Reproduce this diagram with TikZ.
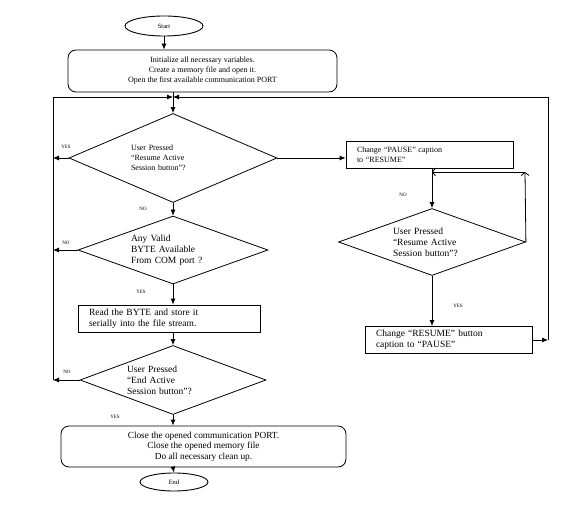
\documentclass[tikz,border=0pt]{standalone}
\usepackage{fontspec}
\setmainfont{Liberation Serif}
\usetikzlibrary{shapes.geometric, arrows.meta}
\newcommand{\smalltxt}{\fontsize{8}{10}\selectfont}
\newcommand{\midtxt}{\fontsize{9.5}{11}\selectfont}
\tikzset{
  terminal/.style={
    ellipse, draw, line width=0.9pt, minimum width=#1, minimum height=20pt,
    inner sep=0pt, font=\fontsize{6.5}{7}\selectfont
  },
  process/.style={
    rectangle, draw, line width=0.8pt, text width=#1, minimum height=27pt,
    inner xsep=11pt, inner ysep=1pt, align=left, font=\midtxt
  },
  roundbox/.style={
    rectangle, rounded corners=8pt, draw, line width=0.8pt, minimum width=#1,
    minimum height=42pt, align=center, font=\midtxt
  },
  decision/.style={
    diamond, draw, line width=0.8pt, aspect=2.6, inner sep=0pt,
    text width=#1, align=left, font=\midtxt
  },
  flow/.style={-{Latex[length=6pt,width=5pt]}, line width=0.8pt},
  loopback/.style={-{Straight Barb[length=3pt,width=8pt]}, line width=0.8pt},
  answer/.style={font=\fontsize{5}{5}\selectfont, inner sep=0pt}
}

\begin{document}
\begin{tikzpicture}[x=1pt, y=-1pt]
  \useasboundingbox (0,0) rectangle (573,505);

  % Main column
  \node[terminal=78pt] (start) at (164,26) {Start};
  \node[roundbox=269pt, font=\smalltxt] (init) at (202.5,71)
    {Initialize all necessary variables.\\Create a memory file and open it.\\Open the first available communication PORT};
  \node[decision=84pt, minimum width=208pt, minimum height=89pt, font=\smalltxt] (d1) at (173,158)
    {User Pressed\\“Resume Active\\Session button”?};
  \node[decision=84pt, minimum width=190pt, minimum height=68pt] (d2) at (173,250)
    {Any Valid\\BYTE Available\\From COM port ?};
  \node[process=160pt] (read) at (169,318.5)
    {Read the BYTE and store it\\serially into the file stream.};
  \node[decision=92pt, minimum width=186pt, minimum height=69pt] (d3) at (173,380)
    {User Pressed\\“End Active\\Session button”?};
  \node[roundbox=285pt, minimum height=41pt, font=\fontsize{9.3}{10.5}\selectfont] (close) at (203.5,446.5)
    {Close the opened communication PORT.\\Close the opened memory file\\Do all necessary clean up.};
  \node[terminal=68pt, minimum height=18pt] (stop) at (174,482) {End};

  % Pause branch
  \node[process=145pt, font=\smalltxt] (pause) at (429.5,154.5)
    {Change “PAUSE” caption\\to “RESUME”};
  \node[decision=78pt, minimum width=187pt, minimum height=67pt] (d4) at (432,242)
    {User Pressed\\“Resume Active\\Session button”?};
  \node[process=145pt] (resume) at (448.5,340)
    {Change “RESUME” button\\caption to “PAUSE”};

  \coordinate (join) at (173,97);
  \coordinate (loopW) at (53,97);
  \coordinate (loopE) at (548,97);
  \coordinate (loopR) at (525,172);

  \draw[flow] (start) -- (start |- init.north);
  \draw[flow] (init.south -| join) -- (d1.north);
  \draw[flow] (d1.south) -- (d2.north);
  \draw[flow] (d2.south) -- (d2.south |- read.north);
  \draw[flow] (d2.south |- read.south) -- (d3.north);
  \draw[flow] (d3.south) -- (d3.south |- close.north);
  \draw[flow] (d3.south |- close.south) -- (stop.north);

  % Back to the top, left side
  \draw[flow] (d1.west) -- (d1.west -| loopW);
  \draw[flow] (d2.west) -- (d2.west -| loopW);
  \draw[flow] (d3.west) -- (d3.west -| loopW);
  \draw[flow] (d3.west -| loopW) -- (loopW) -- (join);

  % Pause loop, right side
  \draw[flow] (d1.east) -- (d1.east -| pause.west);
  \draw[flow] (d4 |- pause.south) -- (d4.north);
  \draw[loopback] (d4.east) -- (loopR);
  \draw[loopback] (loopR) -- (loopR -| d4);
  \draw[flow] (d4.south) -- (d4.south |- resume.north);
  \draw[flow] (resume.east) -- (resume.east -| loopE);
  \draw[flow] (resume.east -| loopE) -- (loopE) -- (join);

  % Labels
  \node[answer] (y1) at (66,147) {YES};
  \node[answer] (n1) at (143,209) {NO};
  \node[answer] (n2) at (66,243) {NO};
  \node[answer] (y2) at (141,292) {YES};
  \node[answer] (n3) at (67,372) {NO};
  \node[answer] (y3) at (115,417) {YES};
  \node[answer] (n4) at (403,195) {NO};
  \node[answer] (y4) at (458,306) {YES};

\end{tikzpicture}
\end{document}
